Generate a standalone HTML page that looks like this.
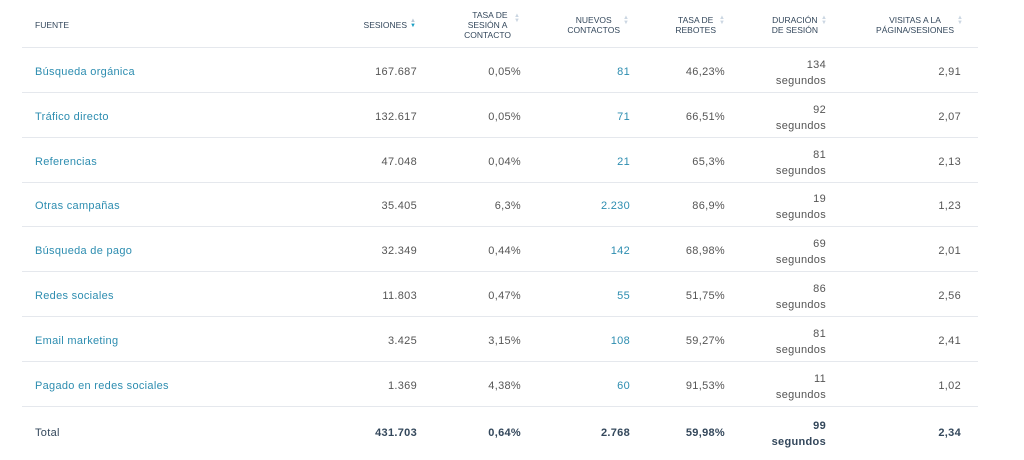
<!DOCTYPE html>
<html><head><meta charset="utf-8"><style>
body{margin:0;width:1024px;height:460px;background:#fff;font-family:"Liberation Sans",sans-serif;position:relative;overflow:hidden}
.t{position:absolute;white-space:nowrap}
.h{font-size:8.5px;color:#33475b;text-align:right;line-height:10px}
.l{font-size:11px;color:#2d8db0;left:35px;letter-spacing:0.3px}
.v{font-size:11px;color:#555;text-align:right;letter-spacing:0.3px}
.b{color:#2d8db0}
.line{position:absolute;left:22px;width:956px;height:1px;background:#e5e8ed}
.ar{position:absolute;font-size:6px;color:#cbd6e2;line-height:5px}
</style></head><body>
<div class="t h" style="left:35px;top:20px">FUENTE</div>
<div class="t h" style="right:617px;top:20px">SESIONES</div>
<div class="ar" style="left:410px;top:19px;color:#b8c6d4">▲<br><span style="color:#1a9fc4">▼</span></div>
<div class="t h" style="right:513px;top:10px;text-align:center">&nbsp;&nbsp;TASA DE<br>SESIÓN A<br>CONTACTO</div>
<div class="ar" style="left:514px;top:14px">▲<br>▼</div>
<div class="t h" style="right:404px;top:15px;text-align:center">NUEVOS<br>CONTACTOS</div>
<div class="ar" style="left:623px;top:16px">▲<br>▼</div>
<div class="t h" style="right:308px;top:15px;text-align:center">TASA DE<br>REBOTES</div>
<div class="ar" style="left:719px;top:16px">▲<br>▼</div>
<div class="t h" style="right:206px;top:15px;text-align:center">DURACIÓN<br>DE SESIÓN</div>
<div class="ar" style="left:821px;top:16px">▲<br>▼</div>
<div class="t h" style="right:70px;top:15px;text-align:center">VISITAS A LA<br>PÁGINA/SESIONES</div>
<div class="ar" style="left:957px;top:16px">▲<br>▼</div>
<div class="line" style="top:47px"></div>
<div id="rows"></div>
<script>
const d=[["Búsqueda orgánica","167.687","0,05%","81","46,23%","134","2,91"],
["Tráfico directo","132.617","0,05%","71","66,51%","92","2,07"],
["Referencias","47.048","0,04%","21","65,3%","81","2,13"],
["Otras campañas","35.405","6,3%","2.230","86,9%","19","1,23"],
["Búsqueda de pago","32.349","0,44%","142","68,98%","69","2,01"],
["Redes sociales","11.803","0,47%","55","51,75%","86","2,56"],
["Email marketing","3.425","3,15%","108","59,27%","81","2,41"],
["Pagado en redes sociales","1.369","4,38%","60","91,53%","11","1,02"]];
let h="";
d.forEach((r,i)=>{const y=71+i*44.8-5;
h+=`<div class="t l" style="top:${y}px">${r[0]}</div>
<div class="t v" style="right:607px;top:${y}px">${r[1]}</div>
<div class="t v" style="right:503px;top:${y}px">${r[2]}</div>
<div class="t v b" style="right:394px;top:${y}px">${r[3]}</div>
<div class="t v" style="right:299px;top:${y}px">${r[4]}</div>
<div class="t v" style="right:198px;top:${y-9}px;line-height:16px">${r[5]}<br>segundos</div>
<div class="t v" style="right:63px;top:${y}px">${r[6]}</div>
<div class="line" style="top:${Math.round(92+i*44.8)}px"></div>`;});
h+=`<div class="t v" style="left:35px;top:427px;color:#33475b;text-align:left">Total</div>
<div class="t v" style="right:607px;top:427px;color:#33475b;font-weight:bold">431.703</div>
<div class="t v" style="right:503px;top:427px;color:#33475b;font-weight:bold">0,64%</div>
<div class="t v" style="right:394px;top:427px;color:#33475b;font-weight:bold">2.768</div>
<div class="t v" style="right:299px;top:427px;color:#33475b;font-weight:bold">59,98%</div>
<div class="t v" style="right:198px;top:418px;color:#33475b;font-weight:bold;line-height:16px">99<br>segundos</div>
<div class="t v" style="right:63px;top:427px;color:#33475b;font-weight:bold">2,34</div>`;
document.getElementById("rows").innerHTML=h;
</script>
</body></html>
